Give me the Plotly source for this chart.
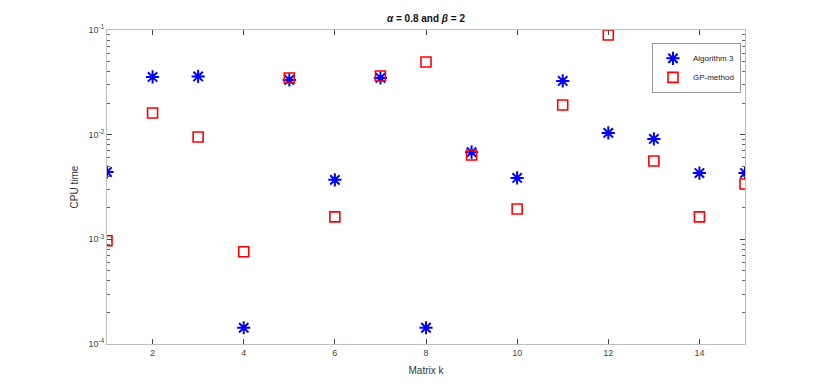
import plotly.graph_objects as go

k = list(range(1, 16))
alg3 = [4.4e-3, 0.0356, 0.036, 1.43e-4, 0.0333, 3.7e-3, 0.0348, 1.43e-4,
        6.8e-3, 3.86e-3, 0.0326, 0.0104, 0.0091, 4.3e-3, 4.3e-3]
gp = [9.7e-4, 0.0161, 0.0095, 7.6e-4, 0.0348, 1.64e-3, 0.0364, 0.0494,
      6.4e-3, 1.95e-3, 0.0192, 0.0896, 5.6e-3, 1.64e-3, 3.38e-3]
ytickvals = [1e-4, 1e-3, 1e-2, 1e-1]
yticktext = ["10<sup>-4</sup>", "10<sup>-3</sup>", "10<sup>-2</sup>", "10<sup>-1</sup>"]
xtickvals = [2, 4, 6, 8, 10, 12, 14]

minor_vals = [m * 10.0 ** e for e in (-4, -3, -2) for m in range(2, 10)]

fig = go.Figure()
fig.add_trace(go.Scatter(x=k, y=alg3, mode="markers", name="Algorithm 3",
                         marker=dict(symbol="asterisk-open", size=11, color="#0000ff",
                                     line=dict(color="#0000ff", width=2.0))))
fig.add_trace(go.Scatter(x=k, y=gp, mode="markers", name="GP-method",
                         marker=dict(symbol="square-open", size=10, color="#ff0000",
                                     line=dict(color="#ff0000", width=1.6))))

axis_common = dict(showline=True, linecolor="#bdbdbd", linewidth=1, mirror="ticks",
                   ticks="inside", tickcolor="#444444", ticklen=5, showgrid=False,
                   zeroline=False, tickfont=dict(family="Liberation Sans, Arial", size=9, color="#444444"))

fig.update_xaxes(range=[1, 15], tickvals=xtickvals,
                 title=dict(text="Matrix k", font=dict(family="Liberation Sans, Arial", size=10, color="#333333"),
                            standoff=10),
                 **axis_common)
fig.update_yaxes(type="log", range=[-4, -1], tickvals=ytickvals, ticktext=yticktext,
                 minor=dict(tickvals=minor_vals, ticks="inside", ticklen=3, tickcolor="#666666"),
                 title=dict(text="CPU time", font=dict(family="Liberation Sans, Arial", size=10, color="#333333"),
                            standoff=8),
                 **axis_common)

L, T, PW, PH = 99, 22, 638, 314
fig.update_layout(
    width=822, height=386,
    margin=dict(l=L, r=822 - L - PW, t=T, b=386 - T - PH),
    paper_bgcolor="white", plot_bgcolor="white",
    title=dict(text="<b><i>α</i> = 0.8 and <i>β</i> = 2</b>", x=(L + PW / 2) / 822, xanchor="center",
               y=1 - (T - 8) / 386, yanchor="bottom",
               font=dict(family="Liberation Sans, Arial", size=10, color="#111111")),
    legend=dict(x=0.9937, y=0.959, xanchor="right", yanchor="top",
                bgcolor="white", bordercolor="#999999", borderwidth=1,
                font=dict(family="Liberation Sans, Arial", size=8, color="#222222"),
                itemwidth=30, tracegroupgap=0),
    showlegend=True,
)

fig.write_html("out.html")
